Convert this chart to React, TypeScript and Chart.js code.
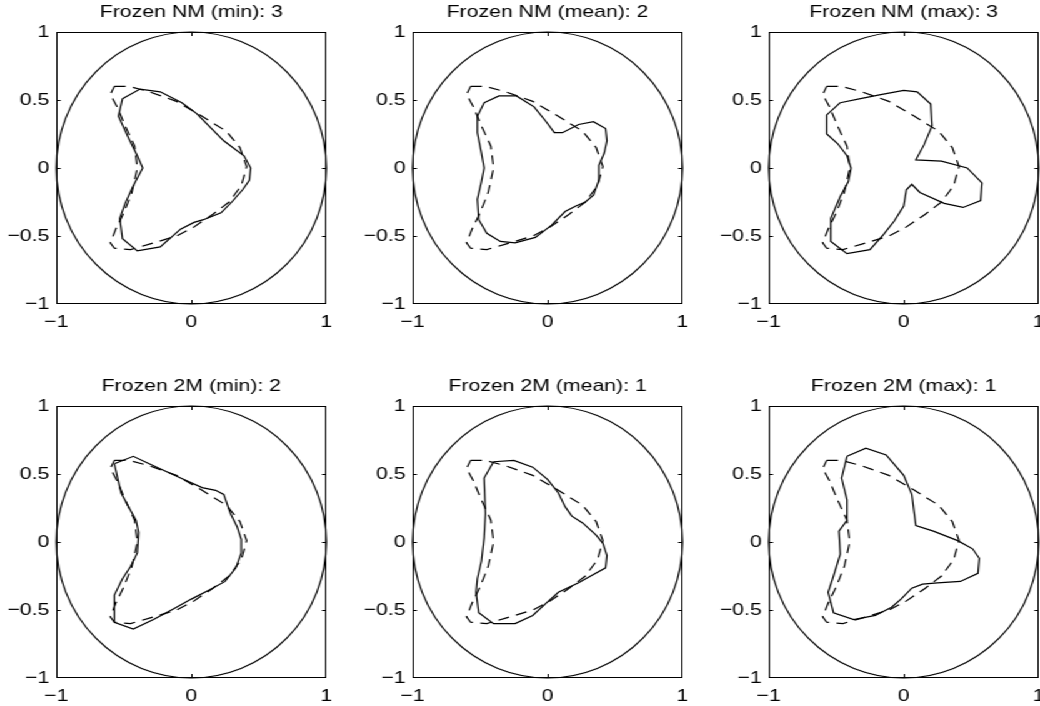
import React, { useEffect, useRef } from "react";
import { Chart, registerables } from "chart.js";

Chart.register(...registerables);

// ---------- data ----------
const titles = [
  "Frozen NM (min): 3",
  "Frozen NM (mean): 2",
  "Frozen NM (max): 3",
  "Frozen 2M (min): 2",
  "Frozen 2M (mean): 1",
  "Frozen 2M (max): 1",
];

const xTickValues = [-1, 0, 1];
const xTickLabels = ["\u22121", "0", "1"];
const yTickValues = [-1, -0.5, 0, 0.5, 1];
const yTickLabels = ["\u22121", "\u22120.5", "0", "0.5", "1"];
const CIRCLE_R = 1;

// true shape (dashed), same in every panel
const trueX = [-0.57, -0.46, -0.31, -0.11, 0.08, 0.26, 0.36, 0.41, 0.37, 0.28, 0.16, 0.01, -0.11, -0.31, -0.45, -0.57, -0.6, -0.56, -0.5, -0.44, -0.4, -0.42, -0.49, -0.55, -0.6];
const trueY = [0.6, 0.6, 0.56, 0.49, 0.38, 0.27, 0.15, 0.01, -0.13, -0.25, -0.34, -0.44, -0.5, -0.56, -0.6, -0.59, -0.55, -0.45, -0.33, -0.18, 0.0, 0.16, 0.31, 0.45, 0.54];

// estimated shapes (solid)
const nmMinX = [-0.51, -0.38, -0.23, -0.07, 0.04, 0.13, 0.24, 0.39, 0.44, 0.43, 0.38, 0.3, 0.22, 0.09, 0.02, -0.08, -0.23, -0.4, -0.51, -0.53, -0.49, -0.43, -0.36, -0.4, -0.46, -0.54];
const nmMinY = [0.51, 0.58, 0.56, 0.48, 0.4, 0.31, 0.2, 0.09, 0.0, -0.09, -0.16, -0.25, -0.33, -0.38, -0.4, -0.45, -0.58, -0.61, -0.52, -0.37, -0.26, -0.13, 0.0, 0.09, 0.21, 0.38];

const nmMeanX = [-0.47, -0.36, -0.23, -0.1, -0.01, 0.05, 0.11, 0.23, 0.34, 0.43, 0.44, 0.42, 0.38, 0.38, 0.34, 0.28, 0.21, 0.13, 0.03, -0.09, -0.24, -0.35, -0.45, -0.51, -0.52, -0.49, -0.47, -0.49, -0.52, -0.52];
const nmMeanY = [0.48, 0.53, 0.53, 0.45, 0.34, 0.26, 0.26, 0.32, 0.34, 0.29, 0.2, 0.11, 0.02, -0.09, -0.2, -0.25, -0.28, -0.32, -0.42, -0.51, -0.55, -0.54, -0.48, -0.38, -0.23, -0.1, 0.0, 0.11, 0.26, 0.38];

const nmMaxX = [-0.47, -0.32, -0.17, 0.0, 0.1, 0.2, 0.21, 0.15, 0.09, 0.28, 0.47, 0.58, 0.57, 0.44, 0.3, 0.12, 0.06, 0.02, 0.0, -0.07, -0.15, -0.25, -0.42, -0.54, -0.54, -0.47, -0.41, -0.39, -0.42, -0.49, -0.57, -0.57];
const nmMaxY = [0.48, 0.51, 0.54, 0.57, 0.56, 0.47, 0.31, 0.17, 0.06, 0.05, 0.0, -0.11, -0.24, -0.29, -0.26, -0.18, -0.12, -0.16, -0.28, -0.39, -0.49, -0.6, -0.63, -0.54, -0.37, -0.21, -0.1, 0.0, 0.09, 0.18, 0.25, 0.39];

const tmMinX = [-0.57, -0.43, -0.28, -0.1, 0.08, 0.18, 0.24, 0.29, 0.34, 0.37, 0.37, 0.33, 0.25, 0.14, 0.0, -0.13, -0.28, -0.43, -0.57, -0.57, -0.51, -0.45, -0.4, -0.39, -0.41, -0.46, -0.52];
const tmMinY = [0.575, 0.63, 0.56, 0.48, 0.4, 0.38, 0.35, 0.21, 0.11, 0.02, -0.08, -0.19, -0.29, -0.35, -0.42, -0.49, -0.57, -0.64, -0.59, -0.39, -0.27, -0.18, -0.08, 0.07, 0.16, 0.25, 0.36];

const tmMeanX = [-0.4, -0.25, -0.11, 0.0, 0.08, 0.13, 0.18, 0.26, 0.36, 0.41, 0.44, 0.43, 0.32, 0.23, 0.08, -0.01, -0.11, -0.24, -0.4, -0.51, -0.53, -0.52, -0.49, -0.47, -0.46, -0.47];
const tmMeanY = [0.59, 0.6, 0.55, 0.46, 0.36, 0.26, 0.19, 0.14, 0.05, -0.01, -0.1, -0.19, -0.25, -0.3, -0.37, -0.45, -0.54, -0.6, -0.6, -0.52, -0.37, -0.27, -0.14, 0.03, 0.21, 0.47];

const tmMaxX = [-0.42, -0.28, -0.13, 0.0, 0.06, 0.09, 0.22, 0.4, 0.51, 0.56, 0.55, 0.42, 0.25, 0.14, 0.06, -0.02, -0.09, -0.21, -0.37, -0.52, -0.56, -0.52, -0.47, -0.48, -0.42, -0.42, -0.46];
const tmMaxY = [0.63, 0.69, 0.64, 0.49, 0.35, 0.12, 0.08, 0.01, -0.05, -0.12, -0.23, -0.29, -0.3, -0.31, -0.34, -0.42, -0.48, -0.54, -0.57, -0.52, -0.37, -0.25, -0.09, 0.08, 0.16, 0.31, 0.47];

const estimatesX = [nmMinX, nmMeanX, nmMaxX, tmMinX, tmMeanX, tmMaxX];
const estimatesY = [nmMinY, nmMeanY, nmMaxY, tmMinY, tmMeanY, tmMaxY];

// ---------- layout / style ----------
const STRETCH = 1.25; // horizontal stretch of the whole figure
const FONT = "'Liberation Sans', Arial, Helvetica, sans-serif";
const SIDE = 45; // inner px left of (and right of) each plot area
const PLOT_W = 216;
const CANVAS_W = SIDE + PLOT_W + SIDE;
const CANVAS_H = 332;
const COL_STEP = 285;
const ROW_TOPS = [0, 374];
const LINE_W = 1.2;

function closedLoop(xs: number[], ys: number[]) {
  const pts = xs.map((x, i) => ({ x, y: ys[i] }));
  pts.push({ ...pts[0] });
  return pts;
}

const matlabBox = {
  id: "matlabBox",
  beforeDatasetsDraw(chart: any) {
    const { ctx, scales } = chart;
    const x = scales.x;
    const y = scales.y;
    const cx = x.getPixelForValue(0);
    const cy = y.getPixelForValue(0);
    const rx = x.getPixelForValue(CIRCLE_R) - cx;
    const ry = cy - y.getPixelForValue(CIRCLE_R);
    ctx.save();
    ctx.beginPath();
    ctx.ellipse(cx, cy, rx, ry, 0, 0, Math.PI * 2);
    ctx.strokeStyle = "#000";
    ctx.lineWidth = LINE_W;
    ctx.stroke();
    ctx.restore();
  },
  afterDatasetsDraw(chart: any) {
    const { ctx, chartArea: a, scales } = chart;
    const x = scales.x;
    const y = scales.y;
    const L = Math.round(a.left) + 0.5;
    const R = Math.round(a.right) - 0.5;
    const T = Math.round(a.top) + 0.5;
    const B = Math.round(a.bottom) - 0.5;
    ctx.save();
    ctx.strokeStyle = "#000";
    ctx.lineWidth = 1;
    ctx.strokeRect(L, T, R - L, B - T);
    ctx.beginPath();
    const tx = 3;
    const ty = 3.5;
    for (const v of xTickValues) {
      if (v === x.min || v === x.max) continue;
      const px = Math.round(x.getPixelForValue(v)) + 0.5;
      ctx.moveTo(px, B);
      ctx.lineTo(px, B - ty);
      ctx.moveTo(px, T);
      ctx.lineTo(px, T + ty);
    }
    for (const v of yTickValues) {
      if (v === y.min || v === y.max) continue;
      const py = Math.round(y.getPixelForValue(v)) + 0.5;
      ctx.moveTo(L, py);
      ctx.lineTo(L + tx, py);
      ctx.moveTo(R, py);
      ctx.lineTo(R - tx, py);
    }
    ctx.stroke();
    ctx.restore();
  },
};

function Panel({ index }: { index: number }) {
  const ref = useRef<HTMLCanvasElement | null>(null);
  useEffect(() => {
    if (!ref.current) return;
    const tickFont = { family: FONT, size: 17, weight: "normal" as const };
    const chart = new Chart(ref.current, {
      type: "scatter",
      data: {
        datasets: [
          {
            label: "true",
            data: closedLoop(trueX, trueY),
            showLine: true,
            borderColor: "#000",
            borderWidth: LINE_W,
            borderDash: [9, 6],
            pointRadius: 0,
            fill: false,
            xAxisID: "x",
            yAxisID: "y",
          },
          {
            label: "estimate",
            data: closedLoop(estimatesX[index], estimatesY[index]),
            showLine: true,
            borderColor: "#000",
            borderWidth: LINE_W,
            pointRadius: 0,
            fill: false,
            xAxisID: "x",
            yAxisID: "y",
          },
        ],
      },
      options: {
        responsive: false,
        animation: false,
        devicePixelRatio: 1,
        events: [],
        layout: { padding: 0 },
        plugins: {
          legend: { display: false },
          tooltip: { enabled: false },
          title: {
            display: true,
            text: titles[index],
            color: "#000",
            font: { family: FONT, size: 17, weight: "normal" },
            padding: { top: 2, bottom: 9.6 },
          },
        },
        scales: {
          x: {
            type: "linear",
            position: "bottom",
            min: -1,
            max: 1,
            grid: { display: false, drawTicks: false },
            border: { display: false },
            afterBuildTicks: (s: any) => {
              s.ticks = xTickValues.map((v) => ({ value: v }));
            },
            afterFit: (s: any) => {
              s.height = 28;
            },
            ticks: {
              color: "#000",
              font: tickFont,
              padding: 8.5,
              maxRotation: 0,
              autoSkip: false,
              callback: (v: any) => xTickLabels[xTickValues.indexOf(Number(v))],
            },
          },
          y: {
            type: "linear",
            position: "left",
            min: -1,
            max: 1,
            grid: { display: false, drawTicks: false },
            border: { display: false },
            afterBuildTicks: (s: any) => {
              s.ticks = yTickValues.map((v) => ({ value: v }));
            },
            afterFit: (s: any) => {
              s.width = SIDE;
            },
            ticks: {
              color: "#000",
              font: tickFont,
              padding: 5.5,
              autoSkip: false,
              callback: (v: any) => yTickLabels[yTickValues.indexOf(Number(v))],
            },
          },
          // empty right-hand spacer so the title centres over the plot area
          yRight: {
            type: "linear",
            position: "right",
            min: -1,
            max: 1,
            grid: { display: false, drawTicks: false },
            border: { display: false },
            ticks: { display: false },
            afterFit: (s: any) => {
              s.width = SIDE;
            },
          },
        },
      },
      plugins: [matlabBox],
    } as any);
    return () => chart.destroy();
  }, [index]);

  const col = index % 3;
  const row = Math.floor(index / 3);
  return (
    <canvas
      ref={ref}
      width={CANVAS_W}
      height={CANVAS_H}
      style={{
        position: "absolute",
        left: col * COL_STEP,
        top: ROW_TOPS[row],
        width: CANVAS_W,
        height: CANVAS_H,
      }}
    />
  );
}

export default function App() {
  return (
    <div
      style={{
        position: "absolute",
        left: 0,
        top: 0,
        width: 1040 / STRETCH,
        height: 706,
        overflow: "hidden",
        background: "#fff",
        transform: `scaleX(${STRETCH})`,
        transformOrigin: "0 0",
      }}
    >
      {titles.map((_, i) => (
        <Panel key={i} index={i} />
      ))}
    </div>
  );
}
